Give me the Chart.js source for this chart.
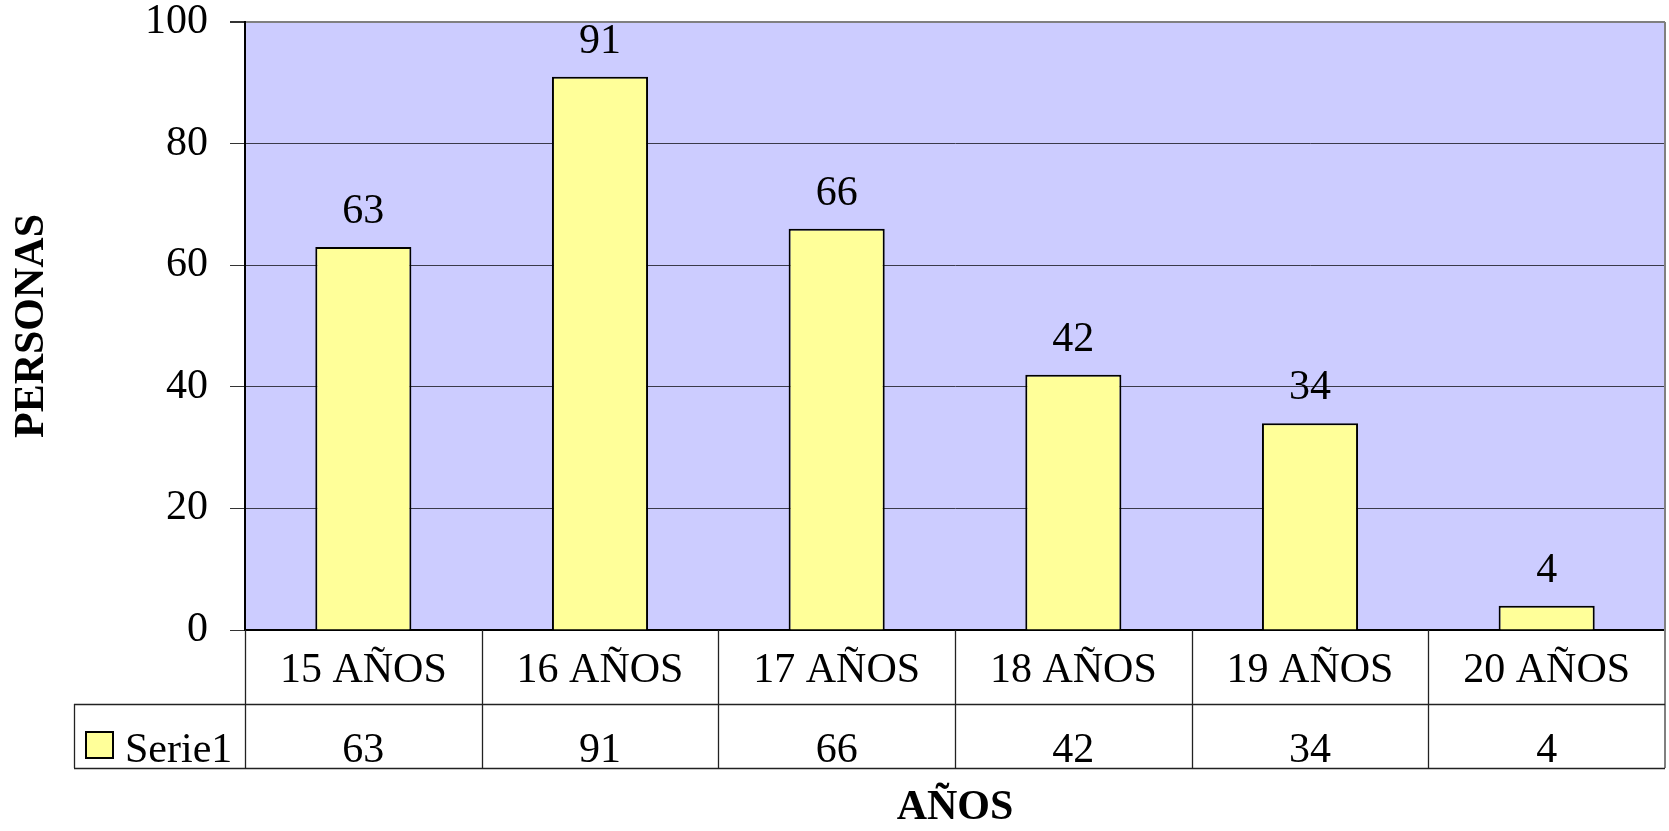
<!DOCTYPE html>
<html lang="es">
<head>
<meta charset="utf-8">
<title>Personas por años</title>
<script src="https://cdn.jsdelivr.net/npm/chart.js@4.4.0/dist/chart.umd.min.js"></script>
<style>
  html, body { margin: 0; padding: 0; background: #fff; }
  canvas { display: block; }
</style>
</head>
<body>
<canvas id="grafico" width="1669" height="831"></canvas>
<script>
// =============================================
//           DATOS DEL GRÁFICO
// =============================================
const categorias = ["15 AÑOS", "16 AÑOS", "17 AÑOS", "18 AÑOS", "19 AÑOS", "20 AÑOS"];
const personas = [63, 91, 66, 42, 34, 4];
const nombreSerie = "Serie1";
const ticksY = [0, 20, 40, 60, 80, 100];

const FUENTE = "'Liberation Serif', 'Times New Roman', serif";
const TAM = 42;
const FONDO_AREA = "#CCCCFF";
const COLOR_BARRA = "#FFFF99";
const COLOR_LINEA = "#222222";

/////////////////**FONDO LILA DEL ÁREA DE TRAZADO*/////////////////
const fondoArea = {
    id: "fondoArea",
    beforeDraw(chart) {
        const { ctx, chartArea: a } = chart;
        ctx.save();
        ctx.fillStyle = FONDO_AREA;
        ctx.fillRect(a.left, a.top, a.right - a.left, a.bottom - a.top);
        ctx.restore();
    }
};

/////////////////**VALORES ENCIMA DE CADA BARRA*/////////////////
const etiquetasBarras = {
    id: "etiquetasBarras",
    afterDatasetsDraw(chart) {
        const { ctx } = chart;
        const barras = chart.getDatasetMeta(0).data;
        ctx.save();
        ctx.font = TAM + "px " + FUENTE;
        ctx.fillStyle = "#000";
        ctx.textAlign = "center";
        ctx.textBaseline = "alphabetic";
        barras.forEach((b, i) => {
            ctx.fillText(String(personas[i]), b.x, b.y - 24);
        });
        ctx.restore();
    }
};

/////////////////**TABLA DE DATOS DEBAJO DEL EJE X*/////////////////
const tablaDatos = {
    id: "tablaDatos",
    afterDraw(chart) {
        const { ctx, chartArea: a } = chart;
        const x = chart.scales.x;
        const ancho = (a.right - a.left) / categorias.length;
        const filaCat = a.bottom + 74;   // fin de la fila de categorías
        const filaVal = a.bottom + 138;  // fin de la fila de valores
        const izqLeyenda = 74;

        ctx.save();
        // borde derecho del área (gris)
        ctx.strokeStyle = "#808080";
        ctx.lineWidth = 2;
        ctx.beginPath();
        ctx.moveTo(a.right, a.top);
        ctx.lineTo(a.right, filaVal);
        ctx.stroke();

        // líneas de la tabla
        ctx.strokeStyle = COLOR_LINEA;
        ctx.lineWidth = 1.3;
        ctx.beginPath();
        for (let i = 0; i < categorias.length; i++) {
            const xi = Math.round(x.getPixelForValue(i) - ancho / 2) + 0.5;
            ctx.moveTo(xi, a.bottom);
            ctx.lineTo(xi, filaVal);
        }
        ctx.moveTo(izqLeyenda + 0.5, filaCat);
        ctx.lineTo(izqLeyenda + 0.5, filaVal);
        ctx.moveTo(izqLeyenda, filaCat + 0.5);
        ctx.lineTo(a.right, filaCat + 0.5);
        ctx.moveTo(izqLeyenda, filaVal + 0.5);
        ctx.lineTo(a.right, filaVal + 0.5);
        ctx.stroke();

        // valores de la serie
        ctx.font = TAM + "px " + FUENTE;
        ctx.fillStyle = "#000";
        ctx.textAlign = "center";
        ctx.textBaseline = "alphabetic";
        personas.forEach((v, i) => {
            ctx.fillText(String(v), x.getPixelForValue(i), filaVal - 6);
        });

        // clave de leyenda
        ctx.fillStyle = COLOR_BARRA;
        ctx.fillRect(86, filaCat + 28, 27, 26);
        ctx.strokeStyle = "#000";
        ctx.lineWidth = 2;
        ctx.strokeRect(86, filaCat + 28, 27, 26);
        ctx.fillStyle = "#000";
        ctx.textAlign = "left";
        ctx.fillText(nombreSerie, 125, filaVal - 6);
        ctx.restore();
    }
};

/////////////////**CONFIGURACIÓN DEL GRÁFICO*/////////////////
function obtenerConfiguracion() {
    return {
        type: "bar",
        data: {
            labels: categorias,
            datasets: [{
                label: nombreSerie,
                data: personas,
                backgroundColor: COLOR_BARRA,
                borderColor: "#000",
                borderWidth: 2,
                categoryPercentage: 1,
                barPercentage: 0.406
            }]
        },
        options: {
            responsive: false,
            animation: false,
            layout: { padding: { top: 22, right: 4, bottom: 0, left: 0 } },
            plugins: {
                legend: { display: false },
                tooltip: { enabled: false }
            },
            scales: {
                x: {
                    grid: { display: false, drawTicks: false },
                    border: { display: true, color: "#000", width: 2 },
                    ticks: {
                        color: "#000",
                        padding: 16,
                        maxRotation: 0,
                        autoSkip: false,
                        font: { family: FUENTE, size: TAM }
                    },
                    title: {
                        display: true,
                        text: "AÑOS",
                        color: "#000",
                        padding: { top: 0, bottom: 2 },
                        font: { family: FUENTE, size: TAM, weight: "bold", lineHeight: 1 }
                    },
                    afterFit(scale) {
                        scale.height = 201;
                        scale.paddingLeft = 0;
                        scale.paddingRight = 0;
                    }
                },
                y: {
                    min: 0,
                    max: 100,
                    afterBuildTicks(scale) {
                        scale.ticks = ticksY.map(v => ({ value: v }));
                    },
                    grid: {
                        color: ctx => (ctx.tick && ctx.tick.value === 100 ? "#808080" : "#3a3a4a"),
                        lineWidth: ctx => (ctx.tick && ctx.tick.value === 100 ? 2 : 1),
                        tickColor: "#333333",
                        tickLength: 15
                    },
                    border: { display: true, color: "#000", width: 2 },
                    ticks: {
                        color: "#000",
                        padding: 22,
                        font: { family: FUENTE, size: TAM }
                    },
                    title: {
                        display: true,
                        text: "PERSONAS",
                        color: "#000",
                        padding: { top: 11, bottom: 0 },
                        font: { family: FUENTE, size: TAM, weight: "bold", lineHeight: 1 }
                    },
                    afterFit(scale) {
                        scale.width = 245;
                        scale.paddingTop = 0;
                        scale.paddingBottom = 0;
                    }
                }
            }
        },
        plugins: [fondoArea, etiquetasBarras, tablaDatos]
    };
}

/////////////////**CREA EL GRÁFICO*/////////////////
function renderizarGrafico() {
    const ctx = document.getElementById("grafico").getContext("2d");
    window.miGrafico = new Chart(ctx, obtenerConfiguracion());
}

renderizarGrafico();
</script>
</body>
</html>
